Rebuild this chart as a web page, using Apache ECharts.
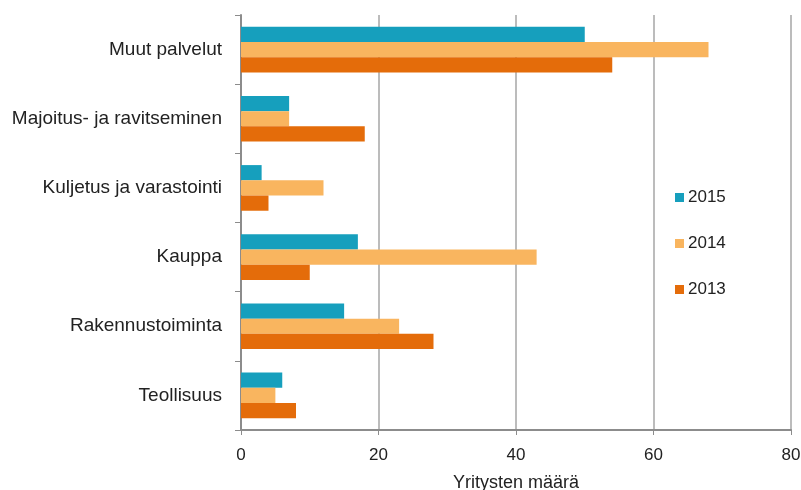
<!DOCTYPE html>
<html>
<head>
<meta charset="utf-8">
<script src="https://cdn.jsdelivr.net/npm/echarts@6/dist/echarts.min.js"></script>
<style>
  html, body { margin: 0; padding: 0; background: #fff; }
  #chart { width: 801px; height: 490px; }
</style>
</head>
<body>
<div id="chart"></div>
<script>
  // toimialat ylhäältä alas
  var categories = ['Muut palvelut', 'Majoitus- ja ravitseminen', 'Kuljetus ja varastointi', 'Kauppa', 'Rakennustoiminta', 'Teollisuus'];
  var years = ['2015', '2014', '2013'];
  var v2015 = [50, 7, 3, 17, 15, 6];
  var v2014 = [68, 7, 12, 43, 23, 5];
  var v2013 = [54, 18, 4, 10, 28, 8];
  var xTicks = [0, 20, 40, 60, 80];

  var colors = ['#169fbd', '#f9b55f', '#e46c0a'];
  var values = [v2015, v2014, v2013];
  var font = "'Liberation Sans', Arial, sans-serif";

  var myChart = echarts.init(document.getElementById('chart'));

  var option = {
    animation: false,
    textStyle: { fontFamily: font },
    grid: { left: 241, right: 10, top: 15, bottom: 60, containLabel: false, outerBoundsMode: 'none' },
    legend: {
      orient: 'vertical',
      left: 670,
      top: 184,
      itemWidth: 9,
      itemHeight: 9,
      itemGap: 29,
      icon: 'rect',
      textStyle: { fontSize: 17, color: '#222', fontFamily: font, padding: [0, 0, 0, -1] },
      data: years
    },
    xAxis: {
      type: 'value',
      min: xTicks[0],
      max: xTicks[xTicks.length - 1],
      interval: 20,
      name: 'Yritysten määrä',
      nameLocation: 'middle',
      nameGap: 44,
      nameTextStyle: { fontSize: 18, color: '#222', fontFamily: font },
      axisLine: { show: true, lineStyle: { color: '#8c8c8c', width: 2 } },
      axisTick: { show: true, length: 5, lineStyle: { color: '#8c8c8c' } },
      axisLabel: { fontSize: 17, color: '#222', margin: 17 },
      splitLine: { show: true, lineStyle: { color: '#a6a6a6', width: 1.5 } }
    },
    yAxis: {
      type: 'category',
      inverse: true,
      data: categories,
      axisLine: { show: true, lineStyle: { color: '#8c8c8c', width: 2 } },
      axisTick: { show: true, length: 6, lineStyle: { color: '#8c8c8c' } },
      axisLabel: { fontSize: 19, color: '#222', margin: 19 },
      splitLine: { show: false }
    },
    series: years.map(function (y, i) {
      return {
        name: y,
        type: 'bar',
        data: values[i],
        barGap: '0%',
        barCategoryGap: '34%',
        itemStyle: { color: colors[i] }
      };
    })
  };

  option && myChart.setOption(option);
</script>
</body>
</html>
